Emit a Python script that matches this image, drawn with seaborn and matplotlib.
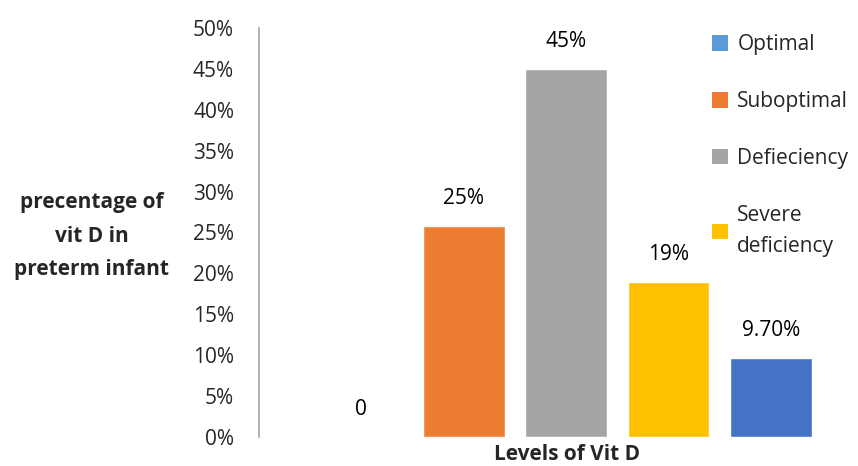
import matplotlib
matplotlib.use("Agg")
import matplotlib.pyplot as plt
import seaborn as sns
import pandas as pd
from matplotlib.patches import Patch

categories = ["Optimal", "Suboptimal", "Defieciency", "Severe\ndeficiency", "Other"]
values = [0, 25.8, 45, 19, 9.7]
value_labels = ["0", "25%", "45%", "19%", "9.70%"]
colors = ["#5B9BD5", "#ED7D31", "#A5A5A5", "#FFC000", "#4472C4"]
legend_names = ["Optimal", "Suboptimal", "Defieciency", "Severe\ndeficiency"]
yticks = [0, 5, 10, 15, 20, 25, 30, 35, 40, 45, 50]

sns.set_theme(style="white")
plt.rcParams["font.family"] = ["Open Sans", "DejaVu Sans"]
FS = 15

df = pd.DataFrame({"cat": categories, "val": values})

fig = plt.figure(figsize=(8.58, 4.66), dpi=100)
ax = fig.add_axes([259/858, (466-437)/466, (822-259)/858, (437-28)/466])

sns.barplot(data=df, x="cat", y="val", hue="cat", palette=colors, order=categories,
            hue_order=categories, width=0.8, legend=False, ax=ax, saturation=1)

for i, (v, lab) in enumerate(zip(values, value_labels)):
    ax.annotate(lab, (i, v), xytext=(0, 19.5), textcoords="offset points",
                ha="center", va="center", fontsize=FS, color="#000000")

ax.set_xlim(-1.0, 4.5)
ax.set_ylim(0, 50)
ax.set_yticks(yticks)
ax.set_yticklabels([f"{t}%" for t in yticks], fontsize=FS)
ax.tick_params(axis="y", length=0, pad=18)
ax.set_xticks([])
for s in ["top", "right", "bottom"]:
    ax.spines[s].set_visible(False)
ax.spines["left"].set_color("#A6A6A6")
ax.spines["left"].set_linewidth(1.2)

ax.set_xlabel("")
ax.set_ylabel("")
fig.text(92/858, 1 - 236/466, "precentage of\nvit D in\npreterm infant", ha="center", va="center",
         fontsize=FS, fontweight="bold", linespacing=1.8)
fig.text(567/858, 1 - 454/466, "Levels of Vit D", ha="center", va="center",
         fontsize=FS, fontweight="bold")

handles = [Patch(facecolor=c, edgecolor="none") for c in colors[:4]]
leg = fig.legend(handles, legend_names, loc="upper left", bbox_to_anchor=(704/858, 1 - 26/466),
                 frameon=False, fontsize=FS, handlelength=0.75, handleheight=0.75,
                 handletextpad=0.45, labelspacing=1.72, borderaxespad=0)
for t in leg.get_texts():
    t.set_linespacing(1.65)

fig.savefig("out.png", dpi=100)
